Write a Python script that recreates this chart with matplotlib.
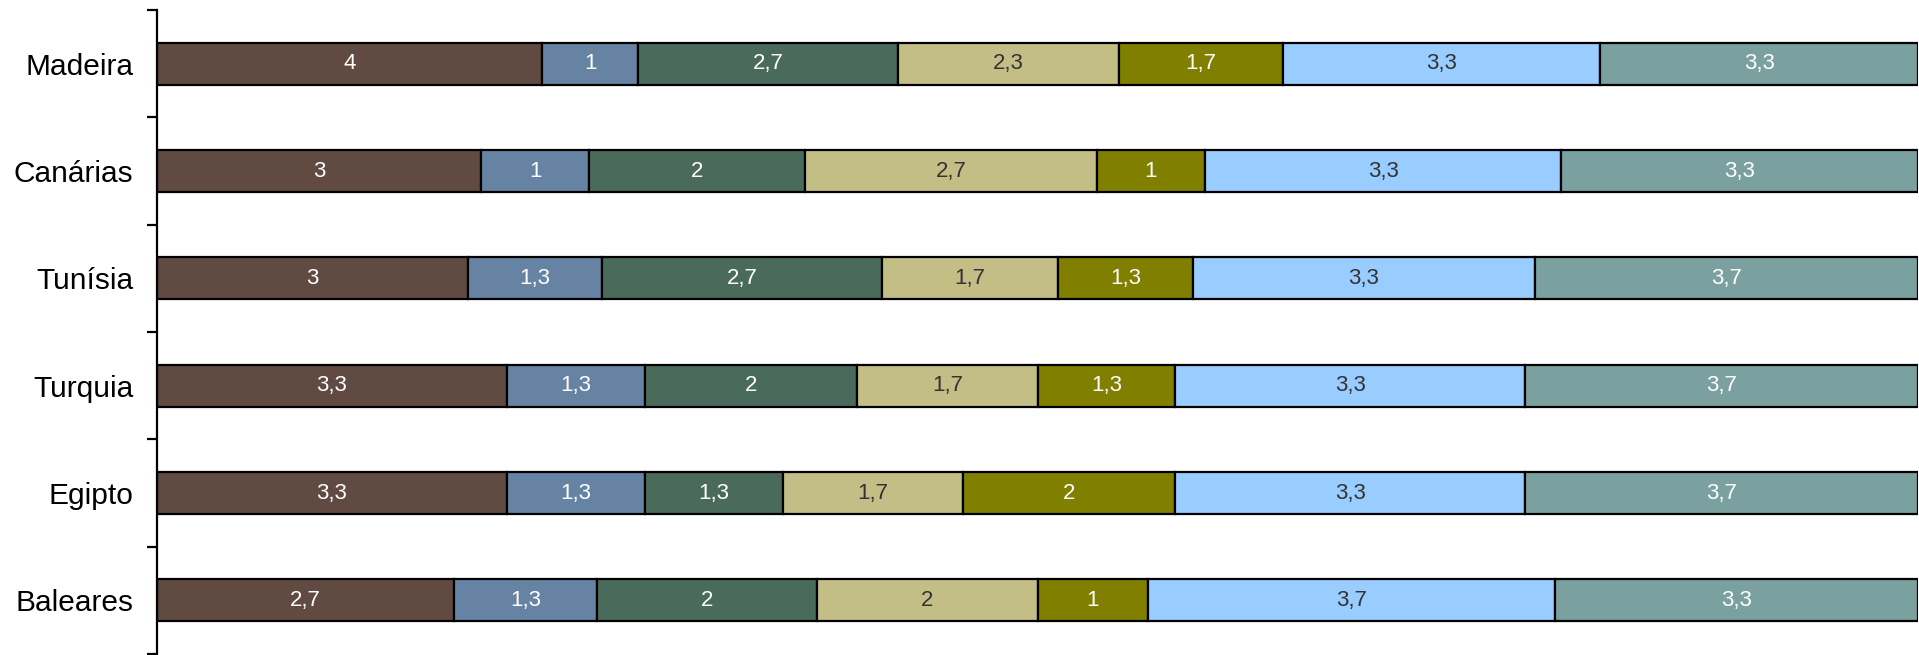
import numpy as np
import matplotlib
matplotlib.use("Agg")
import matplotlib.pyplot as plt

plt.rcParams["font.family"] = ["Liberation Sans", "DejaVu Sans"]

categories = ["Madeira", "Canárias", "Tunísia", "Turquia", "Egipto", "Baleares"]

serie_1 = [4, 3, 3, 3.3, 3.3, 2.7]
serie_2 = [1, 1, 1.3, 1.3, 1.3, 1.3]
serie_3 = [2.7, 2, 2.7, 2, 1.3, 2]
serie_4 = [2.3, 2.7, 1.7, 1.7, 1.7, 2]
serie_5 = [1.7, 1, 1.3, 1.3, 2, 1]
serie_6 = [3.3, 3.3, 3.3, 3.3, 3.3, 3.7]
serie_7 = [3.3, 3.3, 3.7, 3.7, 3.7, 3.3]

series = [serie_1, serie_2, serie_3, serie_4, serie_5, serie_6, serie_7]
colors = ["#604A42", "#6783A4", "#4A6B5B", "#C3BE86", "#807F00", "#99CCFF", "#7BA0A0"]
text_colors = ["white", "white", "white", "#333333", "white", "#333333", "white"]

W, H = 1919, 655
fig = plt.figure(figsize=(W / 100, H / 100), dpi=100)
x0, x1, y_top, y_bot = 157, 1918, 10, 654
ax = fig.add_axes([x0 / W, 1 - y_bot / H, (x1 - x0) / W, (y_bot - y_top) / H])

data = np.array(series, dtype=float)
totals = data.sum(axis=0)
shares = data / totals
y = np.arange(len(categories))
left = np.zeros(len(categories))

for vals, share, col, tcol in zip(data, shares, colors, text_colors):
    bars = ax.barh(y, share, left=left, height=0.39, color=col,
                   edgecolor="black", linewidth=1.6)
    labels = [f"{v:g}".replace(".", ",") for v in vals]
    ax.bar_label(bars, labels=labels, label_type="center", color=tcol, fontsize=16)
    left += share

ax.set_xlim(0, 1)
ax.set_ylim(len(categories) - 0.5, -0.5)

ax.set_yticks(np.arange(len(categories) + 1) - 0.5)
ax.set_yticklabels([])
ax.set_yticks(y, minor=True)
ax.set_yticklabels(categories, minor=True, fontsize=21.5)
ax.tick_params(axis="y", which="major", length=7, width=1.6, direction="out")
ax.tick_params(axis="y", which="minor", length=0, pad=17)
ax.set_xticks([])

for side in ["top", "right", "bottom"]:
    ax.spines[side].set_visible(False)
ax.spines["left"].set_linewidth(1.6)

fig.savefig("out.png", dpi=100)
